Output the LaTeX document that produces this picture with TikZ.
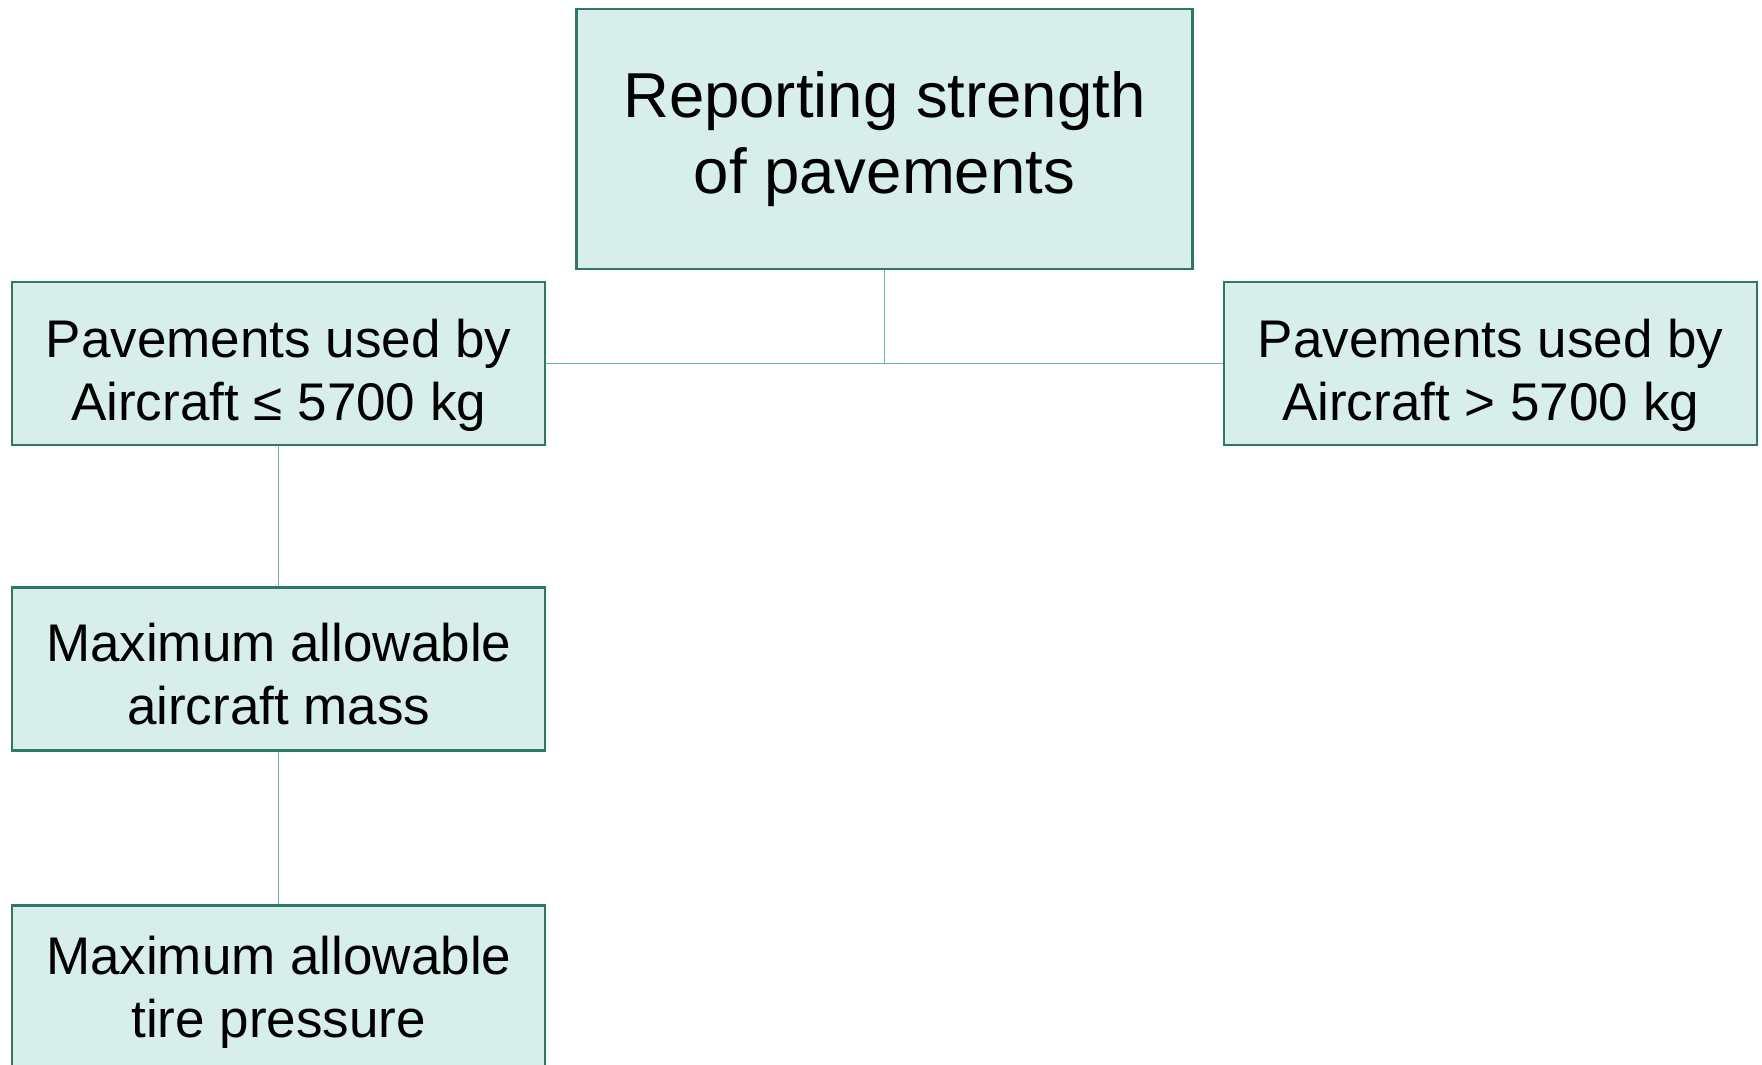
\documentclass[tikz,border=0pt]{standalone}
\usepackage{fontspec}
\setmainfont{Liberation Sans}
\usepackage{tikz}

\definecolor{boxfill}{HTML}{D7EEEA}
\definecolor{boxline}{HTML}{2F7767}
\definecolor{linkline}{HTML}{66B5AA}

% strut that pushes the text of a box down
\newcommand{\txtdrop}[1]{\rule{0pt}{#1}}

\begin{document}
\begin{tikzpicture}[x=1pt,y=-1pt,
    topbox/.style={draw=boxline, fill=boxfill, line width=2.2pt, align=center,
        minimum width=616pt, minimum height=260pt, inner sep=0pt,
        font=\fontsize{63.5}{76}\selectfont},
    subbox/.style={draw=boxline, fill=boxfill, line width=2.2pt, align=center,
        minimum width=533pt, minimum height=163pt, inner sep=0pt,
        font=\fontsize{53}{63}\selectfont},
    link/.style={draw=linkline, line width=1.5pt}
]
\useasboundingbox (0,0) rectangle (1762,1065);

% Top box
\node[topbox] (report) at (884.4,138.8) {Reporting strength\\of pavements};

% Second row
\node[subbox] (light) at (278.7,363.5) {\txtdrop{62pt}Pavements used by\\Aircraft ≤ 5700 kg};
\node[subbox] (heavy) at (1490.6,363.5) {\txtdrop{62pt}Pavements used by\\Aircraft > 5700 kg};

% Left column
\node[subbox] (mass) at (278.7,669) {\txtdrop{49pt}Maximum allowable\\aircraft mass};
\node[subbox] (tyre) at (278.7,987) {\txtdrop{49pt}Maximum allowable\\tire pressure};

% Links
\draw[link] (light.east) -- (heavy.west);
\draw[link] (report.south) -- (report.south |- light.east);
\draw[link] (light.south) -- (mass.north);
\draw[link] (mass.south) -- (tyre.north);

\end{tikzpicture}
\end{document}
